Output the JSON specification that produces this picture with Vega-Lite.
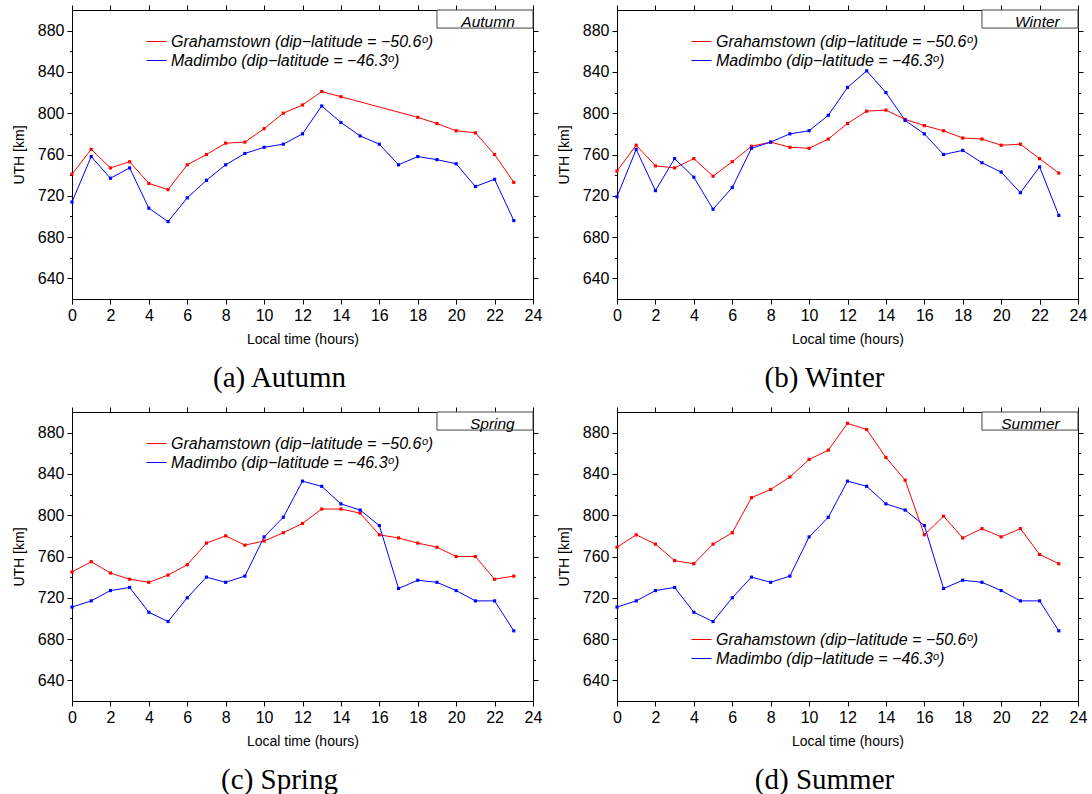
{
  "$schema": "https://vega.github.io/schema/vega-lite/v6.json",
  "background": "white",
  "padding": {"left": 11, "top": 4, "right": 5, "bottom": 5},
  "datasets": {
    "uth": [
      {"season":"Autumn","station":"Grahamstown","hour":0,"uth":741},
      {"season":"Autumn","station":"Grahamstown","hour":1,"uth":765},
      {"season":"Autumn","station":"Grahamstown","hour":2,"uth":747},
      {"season":"Autumn","station":"Grahamstown","hour":3,"uth":753},
      {"season":"Autumn","station":"Grahamstown","hour":4,"uth":732},
      {"season":"Autumn","station":"Grahamstown","hour":5,"uth":726},
      {"season":"Autumn","station":"Grahamstown","hour":6,"uth":750},
      {"season":"Autumn","station":"Grahamstown","hour":7,"uth":760},
      {"season":"Autumn","station":"Grahamstown","hour":8,"uth":771},
      {"season":"Autumn","station":"Grahamstown","hour":9,"uth":772},
      {"season":"Autumn","station":"Grahamstown","hour":10,"uth":785},
      {"season":"Autumn","station":"Grahamstown","hour":11,"uth":800},
      {"season":"Autumn","station":"Grahamstown","hour":12,"uth":808},
      {"season":"Autumn","station":"Grahamstown","hour":13,"uth":821},
      {"season":"Autumn","station":"Grahamstown","hour":14,"uth":816},
      {"season":"Autumn","station":"Grahamstown","hour":18,"uth":796},
      {"season":"Autumn","station":"Grahamstown","hour":19,"uth":790},
      {"season":"Autumn","station":"Grahamstown","hour":20,"uth":783},
      {"season":"Autumn","station":"Grahamstown","hour":21,"uth":781},
      {"season":"Autumn","station":"Grahamstown","hour":22,"uth":760},
      {"season":"Autumn","station":"Grahamstown","hour":23,"uth":733},
      {"season":"Autumn","station":"Madimbo","hour":0,"uth":714},
      {"season":"Autumn","station":"Madimbo","hour":1,"uth":758},
      {"season":"Autumn","station":"Madimbo","hour":2,"uth":737},
      {"season":"Autumn","station":"Madimbo","hour":3,"uth":747},
      {"season":"Autumn","station":"Madimbo","hour":4,"uth":708},
      {"season":"Autumn","station":"Madimbo","hour":5,"uth":695},
      {"season":"Autumn","station":"Madimbo","hour":6,"uth":718},
      {"season":"Autumn","station":"Madimbo","hour":7,"uth":735},
      {"season":"Autumn","station":"Madimbo","hour":8,"uth":750},
      {"season":"Autumn","station":"Madimbo","hour":9,"uth":761},
      {"season":"Autumn","station":"Madimbo","hour":10,"uth":767},
      {"season":"Autumn","station":"Madimbo","hour":11,"uth":770},
      {"season":"Autumn","station":"Madimbo","hour":12,"uth":780},
      {"season":"Autumn","station":"Madimbo","hour":13,"uth":807},
      {"season":"Autumn","station":"Madimbo","hour":14,"uth":791},
      {"season":"Autumn","station":"Madimbo","hour":15,"uth":778},
      {"season":"Autumn","station":"Madimbo","hour":16,"uth":770},
      {"season":"Autumn","station":"Madimbo","hour":17,"uth":750},
      {"season":"Autumn","station":"Madimbo","hour":18,"uth":758},
      {"season":"Autumn","station":"Madimbo","hour":19,"uth":755},
      {"season":"Autumn","station":"Madimbo","hour":20,"uth":751},
      {"season":"Autumn","station":"Madimbo","hour":21,"uth":729},
      {"season":"Autumn","station":"Madimbo","hour":22,"uth":736},
      {"season":"Autumn","station":"Madimbo","hour":23,"uth":696},
      {"season":"Winter","station":"Grahamstown","hour":0,"uth":744},
      {"season":"Winter","station":"Grahamstown","hour":1,"uth":769},
      {"season":"Winter","station":"Grahamstown","hour":2,"uth":749},
      {"season":"Winter","station":"Grahamstown","hour":3,"uth":747},
      {"season":"Winter","station":"Grahamstown","hour":4,"uth":756},
      {"season":"Winter","station":"Grahamstown","hour":5,"uth":739},
      {"season":"Winter","station":"Grahamstown","hour":6,"uth":753},
      {"season":"Winter","station":"Grahamstown","hour":7,"uth":768},
      {"season":"Winter","station":"Grahamstown","hour":8,"uth":772},
      {"season":"Winter","station":"Grahamstown","hour":9,"uth":767},
      {"season":"Winter","station":"Grahamstown","hour":10,"uth":766},
      {"season":"Winter","station":"Grahamstown","hour":11,"uth":775},
      {"season":"Winter","station":"Grahamstown","hour":12,"uth":790},
      {"season":"Winter","station":"Grahamstown","hour":13,"uth":802},
      {"season":"Winter","station":"Grahamstown","hour":14,"uth":803},
      {"season":"Winter","station":"Grahamstown","hour":15,"uth":794},
      {"season":"Winter","station":"Grahamstown","hour":16,"uth":788},
      {"season":"Winter","station":"Grahamstown","hour":17,"uth":783},
      {"season":"Winter","station":"Grahamstown","hour":18,"uth":776},
      {"season":"Winter","station":"Grahamstown","hour":19,"uth":775},
      {"season":"Winter","station":"Grahamstown","hour":20,"uth":769},
      {"season":"Winter","station":"Grahamstown","hour":21,"uth":770},
      {"season":"Winter","station":"Grahamstown","hour":22,"uth":756},
      {"season":"Winter","station":"Grahamstown","hour":23,"uth":742},
      {"season":"Winter","station":"Madimbo","hour":0,"uth":719},
      {"season":"Winter","station":"Madimbo","hour":1,"uth":765},
      {"season":"Winter","station":"Madimbo","hour":2,"uth":725},
      {"season":"Winter","station":"Madimbo","hour":3,"uth":756},
      {"season":"Winter","station":"Madimbo","hour":4,"uth":738},
      {"season":"Winter","station":"Madimbo","hour":5,"uth":707},
      {"season":"Winter","station":"Madimbo","hour":6,"uth":728},
      {"season":"Winter","station":"Madimbo","hour":7,"uth":766},
      {"season":"Winter","station":"Madimbo","hour":8,"uth":772},
      {"season":"Winter","station":"Madimbo","hour":9,"uth":780},
      {"season":"Winter","station":"Madimbo","hour":10,"uth":783},
      {"season":"Winter","station":"Madimbo","hour":11,"uth":798},
      {"season":"Winter","station":"Madimbo","hour":12,"uth":825},
      {"season":"Winter","station":"Madimbo","hour":13,"uth":841},
      {"season":"Winter","station":"Madimbo","hour":14,"uth":820},
      {"season":"Winter","station":"Madimbo","hour":15,"uth":793},
      {"season":"Winter","station":"Madimbo","hour":16,"uth":780},
      {"season":"Winter","station":"Madimbo","hour":17,"uth":760},
      {"season":"Winter","station":"Madimbo","hour":18,"uth":764},
      {"season":"Winter","station":"Madimbo","hour":19,"uth":752},
      {"season":"Winter","station":"Madimbo","hour":20,"uth":743},
      {"season":"Winter","station":"Madimbo","hour":21,"uth":723},
      {"season":"Winter","station":"Madimbo","hour":22,"uth":748},
      {"season":"Winter","station":"Madimbo","hour":23,"uth":701},
      {"season":"Spring","station":"Grahamstown","hour":0,"uth":745},
      {"season":"Spring","station":"Grahamstown","hour":1,"uth":755},
      {"season":"Spring","station":"Grahamstown","hour":2,"uth":744},
      {"season":"Spring","station":"Grahamstown","hour":3,"uth":738},
      {"season":"Spring","station":"Grahamstown","hour":4,"uth":735},
      {"season":"Spring","station":"Grahamstown","hour":5,"uth":742},
      {"season":"Spring","station":"Grahamstown","hour":6,"uth":752},
      {"season":"Spring","station":"Grahamstown","hour":7,"uth":773},
      {"season":"Spring","station":"Grahamstown","hour":8,"uth":780},
      {"season":"Spring","station":"Grahamstown","hour":9,"uth":771},
      {"season":"Spring","station":"Grahamstown","hour":10,"uth":775},
      {"season":"Spring","station":"Grahamstown","hour":11,"uth":783},
      {"season":"Spring","station":"Grahamstown","hour":12,"uth":792},
      {"season":"Spring","station":"Grahamstown","hour":13,"uth":806},
      {"season":"Spring","station":"Grahamstown","hour":14,"uth":806},
      {"season":"Spring","station":"Grahamstown","hour":15,"uth":802},
      {"season":"Spring","station":"Grahamstown","hour":16,"uth":781},
      {"season":"Spring","station":"Grahamstown","hour":17,"uth":778},
      {"season":"Spring","station":"Grahamstown","hour":18,"uth":773},
      {"season":"Spring","station":"Grahamstown","hour":19,"uth":769},
      {"season":"Spring","station":"Grahamstown","hour":20,"uth":760},
      {"season":"Spring","station":"Grahamstown","hour":21,"uth":760},
      {"season":"Spring","station":"Grahamstown","hour":22,"uth":738},
      {"season":"Spring","station":"Grahamstown","hour":23,"uth":741},
      {"season":"Spring","station":"Madimbo","hour":0,"uth":711},
      {"season":"Spring","station":"Madimbo","hour":1,"uth":717},
      {"season":"Spring","station":"Madimbo","hour":2,"uth":727},
      {"season":"Spring","station":"Madimbo","hour":3,"uth":730},
      {"season":"Spring","station":"Madimbo","hour":4,"uth":706},
      {"season":"Spring","station":"Madimbo","hour":5,"uth":697},
      {"season":"Spring","station":"Madimbo","hour":6,"uth":720},
      {"season":"Spring","station":"Madimbo","hour":7,"uth":740},
      {"season":"Spring","station":"Madimbo","hour":8,"uth":735},
      {"season":"Spring","station":"Madimbo","hour":9,"uth":741},
      {"season":"Spring","station":"Madimbo","hour":10,"uth":779},
      {"season":"Spring","station":"Madimbo","hour":11,"uth":798},
      {"season":"Spring","station":"Madimbo","hour":12,"uth":833},
      {"season":"Spring","station":"Madimbo","hour":13,"uth":828},
      {"season":"Spring","station":"Madimbo","hour":14,"uth":811},
      {"season":"Spring","station":"Madimbo","hour":15,"uth":805},
      {"season":"Spring","station":"Madimbo","hour":16,"uth":790},
      {"season":"Spring","station":"Madimbo","hour":17,"uth":729},
      {"season":"Spring","station":"Madimbo","hour":18,"uth":737},
      {"season":"Spring","station":"Madimbo","hour":19,"uth":735},
      {"season":"Spring","station":"Madimbo","hour":20,"uth":727},
      {"season":"Spring","station":"Madimbo","hour":21,"uth":717},
      {"season":"Spring","station":"Madimbo","hour":22,"uth":717},
      {"season":"Spring","station":"Madimbo","hour":23,"uth":688},
      {"season":"Summer","station":"Grahamstown","hour":0,"uth":769},
      {"season":"Summer","station":"Grahamstown","hour":1,"uth":781},
      {"season":"Summer","station":"Grahamstown","hour":2,"uth":772},
      {"season":"Summer","station":"Grahamstown","hour":3,"uth":756},
      {"season":"Summer","station":"Grahamstown","hour":4,"uth":753},
      {"season":"Summer","station":"Grahamstown","hour":5,"uth":772},
      {"season":"Summer","station":"Grahamstown","hour":6,"uth":783},
      {"season":"Summer","station":"Grahamstown","hour":7,"uth":817},
      {"season":"Summer","station":"Grahamstown","hour":8,"uth":825},
      {"season":"Summer","station":"Grahamstown","hour":9,"uth":837},
      {"season":"Summer","station":"Grahamstown","hour":10,"uth":854},
      {"season":"Summer","station":"Grahamstown","hour":11,"uth":863},
      {"season":"Summer","station":"Grahamstown","hour":12,"uth":889},
      {"season":"Summer","station":"Grahamstown","hour":13,"uth":883},
      {"season":"Summer","station":"Grahamstown","hour":14,"uth":856},
      {"season":"Summer","station":"Grahamstown","hour":15,"uth":834},
      {"season":"Summer","station":"Grahamstown","hour":16,"uth":781},
      {"season":"Summer","station":"Grahamstown","hour":17,"uth":799},
      {"season":"Summer","station":"Grahamstown","hour":18,"uth":778},
      {"season":"Summer","station":"Grahamstown","hour":19,"uth":787},
      {"season":"Summer","station":"Grahamstown","hour":20,"uth":779},
      {"season":"Summer","station":"Grahamstown","hour":21,"uth":787},
      {"season":"Summer","station":"Grahamstown","hour":22,"uth":762},
      {"season":"Summer","station":"Grahamstown","hour":23,"uth":753},
      {"season":"Summer","station":"Madimbo","hour":0,"uth":711},
      {"season":"Summer","station":"Madimbo","hour":1,"uth":717},
      {"season":"Summer","station":"Madimbo","hour":2,"uth":727},
      {"season":"Summer","station":"Madimbo","hour":3,"uth":730},
      {"season":"Summer","station":"Madimbo","hour":4,"uth":706},
      {"season":"Summer","station":"Madimbo","hour":5,"uth":697},
      {"season":"Summer","station":"Madimbo","hour":6,"uth":720},
      {"season":"Summer","station":"Madimbo","hour":7,"uth":740},
      {"season":"Summer","station":"Madimbo","hour":8,"uth":735},
      {"season":"Summer","station":"Madimbo","hour":9,"uth":741},
      {"season":"Summer","station":"Madimbo","hour":10,"uth":779},
      {"season":"Summer","station":"Madimbo","hour":11,"uth":798},
      {"season":"Summer","station":"Madimbo","hour":12,"uth":833},
      {"season":"Summer","station":"Madimbo","hour":13,"uth":828},
      {"season":"Summer","station":"Madimbo","hour":14,"uth":811},
      {"season":"Summer","station":"Madimbo","hour":15,"uth":805},
      {"season":"Summer","station":"Madimbo","hour":16,"uth":790},
      {"season":"Summer","station":"Madimbo","hour":17,"uth":729},
      {"season":"Summer","station":"Madimbo","hour":18,"uth":737},
      {"season":"Summer","station":"Madimbo","hour":19,"uth":735},
      {"season":"Summer","station":"Madimbo","hour":20,"uth":727},
      {"season":"Summer","station":"Madimbo","hour":21,"uth":717},
      {"season":"Summer","station":"Madimbo","hour":22,"uth":717},
      {"season":"Summer","station":"Madimbo","hour":23,"uth":688}
    ]
  },
  "spacing": 12,
  "resolve": {"scale": {"color": "independent"}, "legend": {"color": "independent"}},
  "vconcat": [
    {
      "spacing": 13,
      "resolve": {"scale": {"color": "independent"}, "legend": {"color": "independent"}},
      "hconcat": [
        {
          "width": 461, "height": 289,
          "title": {"text": "(a) Autumn"},
          "resolve": {"axis": {"x": "independent", "y": "independent"}},
          "layer": [
            {
              "data": {"values": [{"x": 19, "x2": 24, "y": 882.5, "y2": 900, "label": "Autumn", "tx": 23.05, "ty": 883.8}]},
              "mark": {"type": "rect", "fill": "white", "stroke": "#444444", "strokeWidth": 1},
              "encoding": {
                "x": {"field": "x", "type": "quantitative", "scale": {"domain": [0, 24], "nice": false}, "axis": null},
                "x2": {"field": "x2"},
                "y": {"field": "y", "type": "quantitative", "scale": {"domain": [620, 900], "nice": false, "zero": false}, "axis": null},
                "y2": {"field": "y2"}
              }
            },
            {
              "data": {"values": [{"x": 19, "x2": 24, "y": 882.5, "y2": 900, "label": "Autumn", "tx": 23.05, "ty": 883.8}]},
              "mark": {"type": "text", "align": "right", "baseline": "alphabetic", "fontStyle": "italic", "fontSize": 15.5, "font": "Liberation Sans", "color": "black"},
              "encoding": {
                "x": {"field": "tx", "type": "quantitative", "axis": null},
                "y": {"field": "ty", "type": "quantitative", "axis": null},
                "text": {"field": "label"}
              }
            },
            {
              "data": {"name": "uth"},
              "transform": [{"filter": "datum.season == 'Autumn'"}],
              "mark": {"type": "line", "strokeWidth": 1, "point": {"filled": true, "shape": "square", "size": 10}},
              "encoding": {
                "x": {"field": "hour", "type": "quantitative", "axis": {"values": [0,2,4,6,8,10,12,14,16,18,20,22,24], "title": "Local time (hours)"}},
                "y": {"field": "uth", "type": "quantitative", "axis": {"values": [640,660,680,700,720,740,760,780,800,820,840,860,880], "labelExpr": "datum.value % 40 == 0 ? datum.label : ''", "tickSize": {"condition": {"test": "datum.value % 40 == 0", "value": 5}, "value": 2.5}, "title": "UTH [km]"}},
                "color": {"field": "station", "type": "nominal", "scale": {"domain": ["Grahamstown", "Madimbo"], "range": ["#ff0000", "#0000ff"]},
                  "legend": {"orient": "none", "legendX": 74, "legendY": 21, "title": null, "symbolType": "stroke", "symbolSize": 400, "symbolStrokeWidth": 1, "labelFont": "Liberation Sans", "labelFontStyle": "italic", "labelFontSize": 16, "labelColor": "black", "labelOffset": 4, "rowPadding": 0, "labelLimit": 400,
                    "labelExpr": "datum.label == 'Grahamstown' ? 'Grahamstown (dip−latitude = −50.6ᵒ)' : 'Madimbo (dip−latitude = −46.3ᵒ)'"}}
              }
            },
            {
              "data": {"name": "uth"},
              "transform": [{"filter": "datum.season == 'Autumn'"}],
              "mark": {"type": "point", "opacity": 0},
              "encoding": {
                "x": {"field": "hour", "type": "quantitative", "axis": {"orient": "top", "values": [0,2,4,6,8,10,12,14,16,18,20,22,24], "labels": false, "title": null}},
                "y": {"field": "uth", "type": "quantitative", "axis": {"orient": "right", "values": [640,660,680,700,720,740,760,780,800,820,840,860,880], "labels": false, "title": null, "tickSize": {"condition": {"test": "datum.value % 40 == 0", "value": 5}, "value": 2.5}}}
              }
            }
          ]
        },
        {
          "width": 461, "height": 289,
          "title": {"text": "(b) Winter"},
          "resolve": {"axis": {"x": "independent", "y": "independent"}},
          "layer": [
            {
              "data": {"values": [{"x": 19, "x2": 24, "y": 882.5, "y2": 900, "label": "Winter", "tx": 23.05, "ty": 883.8}]},
              "mark": {"type": "rect", "fill": "white", "stroke": "#444444", "strokeWidth": 1},
              "encoding": {
                "x": {"field": "x", "type": "quantitative", "scale": {"domain": [0, 24], "nice": false}, "axis": null},
                "x2": {"field": "x2"},
                "y": {"field": "y", "type": "quantitative", "scale": {"domain": [620, 900], "nice": false, "zero": false}, "axis": null},
                "y2": {"field": "y2"}
              }
            },
            {
              "data": {"values": [{"x": 19, "x2": 24, "y": 882.5, "y2": 900, "label": "Winter", "tx": 23.05, "ty": 883.8}]},
              "mark": {"type": "text", "align": "right", "baseline": "alphabetic", "fontStyle": "italic", "fontSize": 15.5, "font": "Liberation Sans", "color": "black"},
              "encoding": {
                "x": {"field": "tx", "type": "quantitative", "axis": null},
                "y": {"field": "ty", "type": "quantitative", "axis": null},
                "text": {"field": "label"}
              }
            },
            {
              "data": {"name": "uth"},
              "transform": [{"filter": "datum.season == 'Winter'"}],
              "mark": {"type": "line", "strokeWidth": 1, "point": {"filled": true, "shape": "square", "size": 10}},
              "encoding": {
                "x": {"field": "hour", "type": "quantitative", "axis": {"values": [0,2,4,6,8,10,12,14,16,18,20,22,24], "title": "Local time (hours)"}},
                "y": {"field": "uth", "type": "quantitative", "axis": {"values": [640,660,680,700,720,740,760,780,800,820,840,860,880], "labelExpr": "datum.value % 40 == 0 ? datum.label : ''", "tickSize": {"condition": {"test": "datum.value % 40 == 0", "value": 5}, "value": 2.5}, "title": "UTH [km]"}},
                "color": {"field": "station", "type": "nominal", "scale": {"domain": ["Grahamstown", "Madimbo"], "range": ["#ff0000", "#0000ff"]},
                  "legend": {"orient": "none", "legendX": 74, "legendY": 21, "title": null, "symbolType": "stroke", "symbolSize": 400, "symbolStrokeWidth": 1, "labelFont": "Liberation Sans", "labelFontStyle": "italic", "labelFontSize": 16, "labelColor": "black", "labelOffset": 4, "rowPadding": 0, "labelLimit": 400,
                    "labelExpr": "datum.label == 'Grahamstown' ? 'Grahamstown (dip−latitude = −50.6ᵒ)' : 'Madimbo (dip−latitude = −46.3ᵒ)'"}}
              }
            },
            {
              "data": {"name": "uth"},
              "transform": [{"filter": "datum.season == 'Winter'"}],
              "mark": {"type": "point", "opacity": 0},
              "encoding": {
                "x": {"field": "hour", "type": "quantitative", "axis": {"orient": "top", "values": [0,2,4,6,8,10,12,14,16,18,20,22,24], "labels": false, "title": null}},
                "y": {"field": "uth", "type": "quantitative", "axis": {"orient": "right", "values": [640,660,680,700,720,740,760,780,800,820,840,860,880], "labels": false, "title": null, "tickSize": {"condition": {"test": "datum.value % 40 == 0", "value": 5}, "value": 2.5}}}
              }
            }
          ]
        }
      ]
    },
    {
      "spacing": 13,
      "resolve": {"scale": {"color": "independent"}, "legend": {"color": "independent"}},
      "hconcat": [
        {
          "width": 461, "height": 289,
          "title": {"text": "(c) Spring"},
          "resolve": {"axis": {"x": "independent", "y": "independent"}},
          "layer": [
            {
              "data": {"values": [{"x": 19, "x2": 24, "y": 882.5, "y2": 900, "label": "Spring", "tx": 23.05, "ty": 883.8}]},
              "mark": {"type": "rect", "fill": "white", "stroke": "#444444", "strokeWidth": 1},
              "encoding": {
                "x": {"field": "x", "type": "quantitative", "scale": {"domain": [0, 24], "nice": false}, "axis": null},
                "x2": {"field": "x2"},
                "y": {"field": "y", "type": "quantitative", "scale": {"domain": [620, 900], "nice": false, "zero": false}, "axis": null},
                "y2": {"field": "y2"}
              }
            },
            {
              "data": {"values": [{"x": 19, "x2": 24, "y": 882.5, "y2": 900, "label": "Spring", "tx": 23.05, "ty": 883.8}]},
              "mark": {"type": "text", "align": "right", "baseline": "alphabetic", "fontStyle": "italic", "fontSize": 15.5, "font": "Liberation Sans", "color": "black"},
              "encoding": {
                "x": {"field": "tx", "type": "quantitative", "axis": null},
                "y": {"field": "ty", "type": "quantitative", "axis": null},
                "text": {"field": "label"}
              }
            },
            {
              "data": {"name": "uth"},
              "transform": [{"filter": "datum.season == 'Spring'"}],
              "mark": {"type": "line", "strokeWidth": 1, "point": {"filled": true, "shape": "square", "size": 10}},
              "encoding": {
                "x": {"field": "hour", "type": "quantitative", "axis": {"values": [0,2,4,6,8,10,12,14,16,18,20,22,24], "title": "Local time (hours)"}},
                "y": {"field": "uth", "type": "quantitative", "axis": {"values": [640,660,680,700,720,740,760,780,800,820,840,860,880], "labelExpr": "datum.value % 40 == 0 ? datum.label : ''", "tickSize": {"condition": {"test": "datum.value % 40 == 0", "value": 5}, "value": 2.5}, "title": "UTH [km]"}},
                "color": {"field": "station", "type": "nominal", "scale": {"domain": ["Grahamstown", "Madimbo"], "range": ["#ff0000", "#0000ff"]},
                  "legend": {"orient": "none", "legendX": 74, "legendY": 21, "title": null, "symbolType": "stroke", "symbolSize": 400, "symbolStrokeWidth": 1, "labelFont": "Liberation Sans", "labelFontStyle": "italic", "labelFontSize": 16, "labelColor": "black", "labelOffset": 4, "rowPadding": 0, "labelLimit": 400,
                    "labelExpr": "datum.label == 'Grahamstown' ? 'Grahamstown (dip−latitude = −50.6ᵒ)' : 'Madimbo (dip−latitude = −46.3ᵒ)'"}}
              }
            },
            {
              "data": {"name": "uth"},
              "transform": [{"filter": "datum.season == 'Spring'"}],
              "mark": {"type": "point", "opacity": 0},
              "encoding": {
                "x": {"field": "hour", "type": "quantitative", "axis": {"orient": "top", "values": [0,2,4,6,8,10,12,14,16,18,20,22,24], "labels": false, "title": null}},
                "y": {"field": "uth", "type": "quantitative", "axis": {"orient": "right", "values": [640,660,680,700,720,740,760,780,800,820,840,860,880], "labels": false, "title": null, "tickSize": {"condition": {"test": "datum.value % 40 == 0", "value": 5}, "value": 2.5}}}
              }
            }
          ]
        },
        {
          "width": 461, "height": 289,
          "title": {"text": "(d) Summer"},
          "resolve": {"axis": {"x": "independent", "y": "independent"}},
          "layer": [
            {
              "data": {"values": [{"x": 19, "x2": 24, "y": 882.5, "y2": 900, "label": "Summer", "tx": 23.05, "ty": 883.8}]},
              "mark": {"type": "rect", "fill": "white", "stroke": "#444444", "strokeWidth": 1},
              "encoding": {
                "x": {"field": "x", "type": "quantitative", "scale": {"domain": [0, 24], "nice": false}, "axis": null},
                "x2": {"field": "x2"},
                "y": {"field": "y", "type": "quantitative", "scale": {"domain": [620, 900], "nice": false, "zero": false}, "axis": null},
                "y2": {"field": "y2"}
              }
            },
            {
              "data": {"values": [{"x": 19, "x2": 24, "y": 882.5, "y2": 900, "label": "Summer", "tx": 23.05, "ty": 883.8}]},
              "mark": {"type": "text", "align": "right", "baseline": "alphabetic", "fontStyle": "italic", "fontSize": 15.5, "font": "Liberation Sans", "color": "black"},
              "encoding": {
                "x": {"field": "tx", "type": "quantitative", "axis": null},
                "y": {"field": "ty", "type": "quantitative", "axis": null},
                "text": {"field": "label"}
              }
            },
            {
              "data": {"name": "uth"},
              "transform": [{"filter": "datum.season == 'Summer'"}],
              "mark": {"type": "line", "strokeWidth": 1, "point": {"filled": true, "shape": "square", "size": 10}},
              "encoding": {
                "x": {"field": "hour", "type": "quantitative", "axis": {"values": [0,2,4,6,8,10,12,14,16,18,20,22,24], "title": "Local time (hours)"}},
                "y": {"field": "uth", "type": "quantitative", "axis": {"values": [640,660,680,700,720,740,760,780,800,820,840,860,880], "labelExpr": "datum.value % 40 == 0 ? datum.label : ''", "tickSize": {"condition": {"test": "datum.value % 40 == 0", "value": 5}, "value": 2.5}, "title": "UTH [km]"}},
                "color": {"field": "station", "type": "nominal", "scale": {"domain": ["Grahamstown", "Madimbo"], "range": ["#ff0000", "#0000ff"]},
                  "legend": {"orient": "none", "legendX": 74, "legendY": 217, "title": null, "symbolType": "stroke", "symbolSize": 400, "symbolStrokeWidth": 1, "labelFont": "Liberation Sans", "labelFontStyle": "italic", "labelFontSize": 16, "labelColor": "black", "labelOffset": 4, "rowPadding": 0, "labelLimit": 400,
                    "labelExpr": "datum.label == 'Grahamstown' ? 'Grahamstown (dip−latitude = −50.6ᵒ)' : 'Madimbo (dip−latitude = −46.3ᵒ)'"}}
              }
            },
            {
              "data": {"name": "uth"},
              "transform": [{"filter": "datum.season == 'Summer'"}],
              "mark": {"type": "point", "opacity": 0},
              "encoding": {
                "x": {"field": "hour", "type": "quantitative", "axis": {"orient": "top", "values": [0,2,4,6,8,10,12,14,16,18,20,22,24], "labels": false, "title": null}},
                "y": {"field": "uth", "type": "quantitative", "axis": {"orient": "right", "values": [640,660,680,700,720,740,760,780,800,820,840,860,880], "labels": false, "title": null, "tickSize": {"condition": {"test": "datum.value % 40 == 0", "value": 5}, "value": 2.5}}}
              }
            }
          ]
        }
      ]
    }
  ],
  "config": {
    "font": "Liberation Sans",
    "view": {"stroke": "black", "strokeWidth": 1},
    "axis": {"domainColor": "black", "tickColor": "black", "labelColor": "black", "titleColor": "black", "labelFont": "Liberation Sans", "titleFont": "Liberation Sans", "labelFontSize": 16, "titleFontSize": 14, "titleFontWeight": "normal", "grid": false, "tickSize": 5, "labelPadding": 3, "domainWidth": 1, "tickWidth": 1, "labelFlush": false, "labelOverlap": false},
    "axisX": {"titlePadding": 9},
    "axisY": {"titlePadding": 11},
    "title": {"font": "Liberation Serif", "fontSize": 29, "fontWeight": "normal", "color": "black", "orient": "bottom", "offset": 18, "dx": -23}
  }
}
